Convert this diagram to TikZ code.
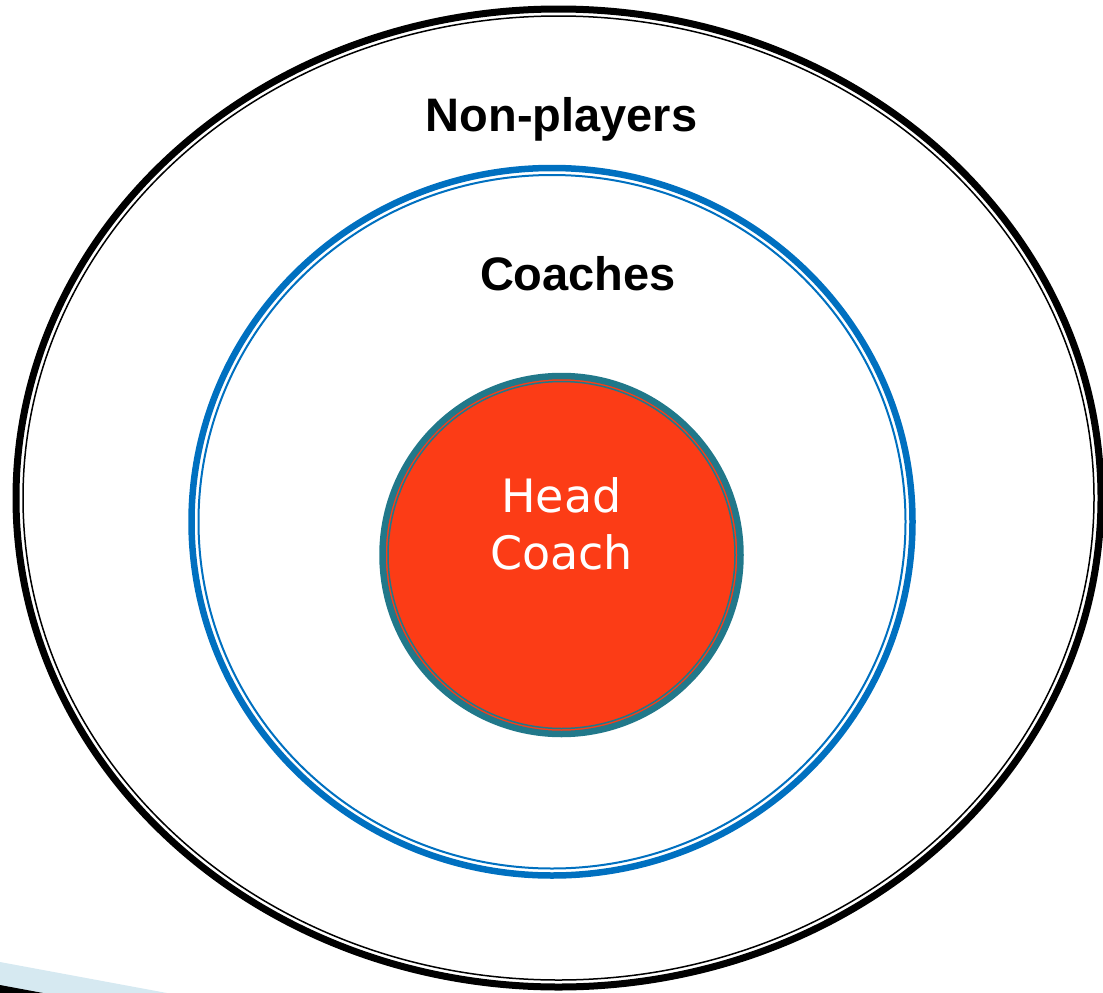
\documentclass[tikz,border=0pt]{standalone}
\usepackage{fontspec}
\setmainfont{Liberation Sans}
\newfontfamily\headfont{DejaVu Sans}
\usepackage{tikz}
\usetikzlibrary{calc}

\definecolor{ringblue}{HTML}{0070C0}
\definecolor{headred}{HTML}{FC3C16}
\definecolor{headteal}{HTML}{21788A}
\definecolor{slideblue}{HTML}{D6E9F1}

\begin{document}
\begin{tikzpicture}[x=1pt,y=-1pt]
\tikzstyle{ringlabel} = [anchor=base, inner sep=0pt, font=\fontsize{47}{56}\selectfont\bfseries]
\tikzstyle{headlabel} = [anchor=base, inner sep=0pt, text=white, font=\fontsize{46}{57}\selectfont\headfont]
\useasboundingbox (0,0) rectangle (1103,993);

% slide corner
\fill[slideblue] (0,962) -- (167,993) -- (0,993) -- cycle;
\fill[black] (0,985) -- (43,993) -- (0,993) -- cycle;

% non-players ring
\draw[line width=7] (558.5,498) ellipse [x radius=542.5, y radius=489];
\draw[line width=1.5] (558.5,498) ellipse [x radius=535.5, y radius=482];

% coaches ring
\draw[ringblue, line width=6.5] (552,521.75) ellipse [x radius=360.5, y radius=353.75];
\draw[ringblue, line width=2] (552,521.75) ellipse [x radius=353.5, y radius=346.75];

% head coach disc
\fill[headred] (561.5,555) circle [radius=179];
\draw[headteal, line width=6.5] (561.5,555) circle [radius=179];
\draw[headteal, line width=1.5] (561.5,555) circle [radius=173.5];

\node[ringlabel] (nonplayers) at (561.5,131) {Non-players};
\node[ringlabel] (coaches) at (578,290) {Coaches};
\node[headlabel] (head) at (561.5,512) {Head};
\node[headlabel] (coach) at (561.5,569) {Coach};
\end{tikzpicture}
\end{document}
